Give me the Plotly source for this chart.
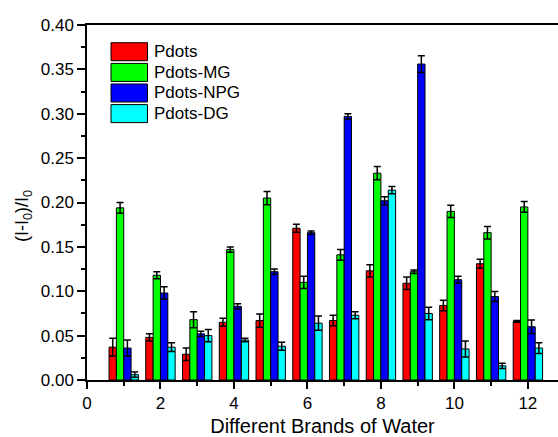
import plotly.graph_objects as go

brands = [1, 2, 3, 4, 5, 6, 7, 8, 9, 10, 11, 12]

series_names = ["Pdots", "Pdots-MG", "Pdots-NPG", "Pdots-DG"]
series_colors = ["#FF0000", "#00FF00", "#0000FF", "#00FFFF"]

pdots = [0.037, 0.048, 0.029, 0.065, 0.067, 0.171, 0.067, 0.123, 0.109, 0.084, 0.131, 0.066]
pdots_mg = [0.194, 0.118, 0.068, 0.147, 0.205, 0.110, 0.141, 0.233, 0.122, 0.190, 0.166, 0.195]
pdots_npg = [0.036, 0.098, 0.052, 0.083, 0.122, 0.166, 0.297, 0.202, 0.356, 0.113, 0.094, 0.060]
pdots_dg = [0.006, 0.037, 0.050, 0.045, 0.038, 0.064, 0.073, 0.214, 0.075, 0.035, 0.016, 0.036]

err_pdots = [0.010, 0.004, 0.007, 0.0045, 0.0075, 0.0045, 0.006, 0.007, 0.007, 0.006, 0.005, 0.001]
err_mg = [0.006, 0.004, 0.009, 0.003, 0.0075, 0.007, 0.006, 0.0075, 0.002, 0.007, 0.007, 0.006]
err_npg = [0.009, 0.007, 0.003, 0.003, 0.003, 0.002, 0.003, 0.0045, 0.0094, 0.004, 0.0056, 0.0075]
err_dg = [0.003, 0.005, 0.007, 0.002, 0.0045, 0.008, 0.004, 0.004, 0.007, 0.009, 0.003, 0.006]

values = [pdots, pdots_mg, pdots_npg, pdots_dg]
errors = [err_pdots, err_mg, err_npg, err_dg]

FONT = "Liberation Sans, Arial, sans-serif"

fig = go.Figure()
for name, color, v, e in zip(series_names, series_colors, values, errors):
    fig.add_trace(go.Bar(
        x=brands, y=v, name=name,
        marker=dict(color=color, line=dict(color="black", width=1)),
        error_y=dict(type="data", array=e, visible=True, color="black",
                     thickness=1.5, width=3.5),
        showlegend=False,
    ))

# plot area in pixels
W, H = 558, 437
L, R, T, B = 87, 0, 25, 57
pw, ph = W - L - R, H - T - B

def px(xp):
    return (xp - L) / pw

def py(yp):
    return (H - B - yp) / ph

shapes = []
annotations = []
row_centers = [51.7, 72.4, 93.0, 113.6]
for name, color, yc in zip(series_names, series_colors, row_centers):
    shapes.append(dict(type="rect", xref="paper", yref="paper",
                       x0=px(111), x1=px(147.5), y0=py(yc + 9), y1=py(yc - 9),
                       fillcolor=color, line=dict(color="black", width=1)))
    annotations.append(dict(xref="paper", yref="paper", x=px(152), y=py(yc),
                            text=name, showarrow=False, xanchor="left",
                            yanchor="middle",
                            font=dict(family=FONT, size=17, color="black")))

annotations.append(dict(xref="paper", yref="paper", x=px(24), y=py(216),
                        text="(I-I<sub>0</sub>)/I<sub>0</sub>", textangle=-90,
                        showarrow=False, xanchor="center", yanchor="middle",
                        font=dict(family=FONT, size=18, color="black")))

fig.update_layout(
    width=W, height=H,
    margin=dict(l=L, r=R, t=T, b=B, pad=0),
    paper_bgcolor="white", plot_bgcolor="white",
    barmode="group", bargap=0.2, bargroupgap=0,
    font=dict(family=FONT, size=17, color="black"),
    shapes=shapes, annotations=annotations,
)
fig.update_xaxes(
    range=[0, 12.82], tickmode="array", tickvals=[0, 2, 4, 6, 8, 10, 12],
    ticks="outside", ticklen=7, tickwidth=1.5, tickcolor="black",
    minor=dict(tickvals=[1, 3, 5, 7, 9, 11], ticks="outside", ticklen=4,
               tickwidth=1.5, tickcolor="black"),
    showline=True, linecolor="black", linewidth=1.5, mirror=True,
    showgrid=False, zeroline=False,
    tickfont=dict(family=FONT, size=17),
    title=dict(text="Different Brands of Water", standoff=7,
               font=dict(family=FONT, size=20)),
)
fig.update_yaxes(
    range=[0, 0.40], tickmode="array",
    tickvals=[0, 0.05, 0.10, 0.15, 0.20, 0.25, 0.30, 0.35, 0.40],
    ticktext=["0.00", "0.05", "0.10", "0.15", "0.20", "0.25", "0.30", "0.35", "0.40"],
    ticks="outside", ticklen=8, tickwidth=1.5, tickcolor="black",
    minor=dict(tickvals=[0.025, 0.075, 0.125, 0.175, 0.225, 0.275, 0.325, 0.375],
               ticks="outside", ticklen=4, tickwidth=1.5, tickcolor="black"),
    showline=True, linecolor="black", linewidth=1.5, mirror=False,
    showgrid=False, zeroline=False,
    tickfont=dict(family=FONT, size=17),
)

fig.write_html("out.html")
